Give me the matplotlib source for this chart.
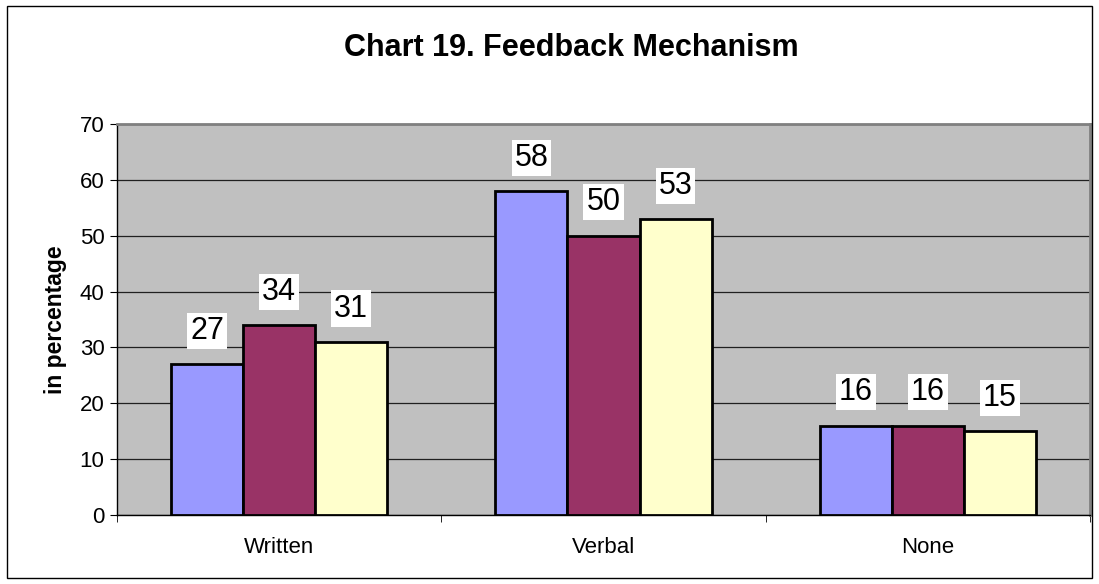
import matplotlib.pyplot as plt
import numpy as np
from matplotlib.patches import Rectangle

plt.rcParams['font.family'] = ['Liberation Sans', 'DejaVu Sans']

# ---------------------------------------------------------
# Data
# ---------------------------------------------------------
categories = ["Written", "Verbal", "None"]
series_a = [27, 58, 16]
series_b = [34, 50, 16]
series_c = [31, 53, 15]
colors = ["#9999FF", "#993366", "#FFFFCC"]

fig = plt.figure(figsize=(10.99, 5.84), dpi=100)

# outer chart border
fig.patches.append(Rectangle((0.006, 0.01), 0.988, 0.98, transform=fig.transFigure,
                             fill=False, edgecolor="black", linewidth=1.0))

ax = fig.add_axes([117 / 1099, 69 / 584, 973 / 1099, 391 / 584])
ax.set_facecolor("#C0C0C0")

x = np.arange(len(categories))
width = 0.222
for i, (vals, col) in enumerate(zip([series_a, series_b, series_c], colors)):
    pos = x + (i - 1) * width
    bars = ax.bar(pos, vals, width=width, color=col, edgecolor="black",
                  linewidth=2.0, zorder=3)
    for b, v in zip(bars, vals):
        ax.annotate(str(v), (b.get_x() + b.get_width() / 2, v),
                    xytext=(0, 24), textcoords="offset points",
                    ha="center", va="center", fontsize=22,
                    bbox=dict(boxstyle="square,pad=0.1", fc="white", ec="none"),
                    zorder=4)

ax.set_xlim(-0.5, 2.5)
ax.set_ylim(0, 70)
ax.set_yticks(range(0, 71, 10))
ax.yaxis.grid(True, color="#202020", linewidth=0.9, zorder=1)
ax.set_axisbelow(True)

ax.set_xticks(x)
ax.set_xticklabels(categories, fontsize=16)
ax.set_xticks([-0.5, 0.5, 1.5, 2.5], minor=True)
ax.tick_params(axis="x", which="major", length=0, pad=16)
ax.tick_params(axis="x", which="minor", length=5, direction="out", color="black")
ax.tick_params(axis="y", labelsize=16, length=5, direction="out", pad=4)

for side in ["top", "right"]:
    ax.spines[side].set_color("#808080")
    ax.spines[side].set_linewidth(2.0)
for side in ["left", "bottom"]:
    ax.spines[side].set_color("black")
    ax.spines[side].set_linewidth(1.0)

ax.set_ylabel("in percentage", fontsize=16.5, fontweight="bold", labelpad=9)
fig.text(0.52, 0.918, "Chart 19. Feedback Mechanism", ha="center", va="center",
         fontsize=22, fontweight="bold")

fig.savefig("out.png", dpi=100)
